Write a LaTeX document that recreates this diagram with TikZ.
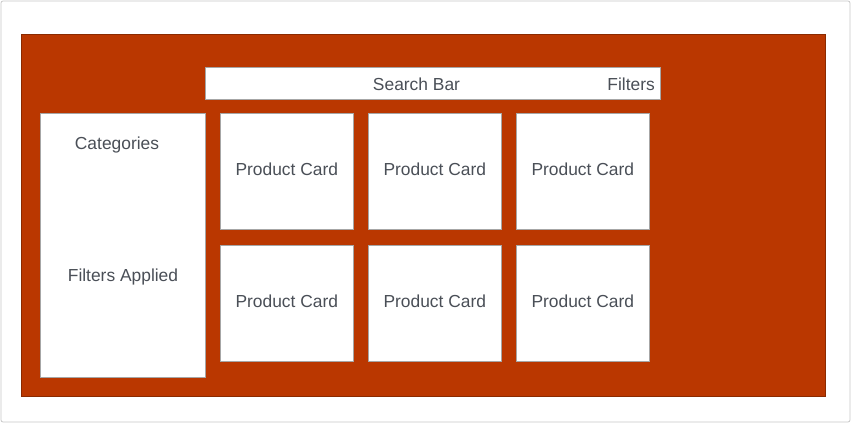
\documentclass[tikz,border=0pt]{standalone}
\usepackage{fontspec}
\setmainfont{Liberation Sans}
\definecolor{bgred}{HTML}{BA3700}
\definecolor{redborder}{HTML}{8A2A00}
\definecolor{txt}{HTML}{4A4F57}
\definecolor{frame}{HTML}{C8C8C8}
\begin{document}
\begin{tikzpicture}[x=1pt,y=-1pt,
  box/.style={draw=gray!70, line width=0.6pt, fill=white, inner sep=0pt},
  lbl/.style={text=txt, font=\fontsize{17.4}{20}\selectfont, inner sep=0pt},
  card/.style={box, minimum width=133pt, minimum height=116pt, text=txt, text depth=4pt, font=\fontsize{17.4}{20}\selectfont}]
\useasboundingbox (0,0) rectangle (852,424);
\fill[white] (0,0) rectangle (852,424);
\draw[frame, line width=0.8pt, rounded corners=2pt] (1,1) rectangle (850,422);
\draw[redborder, fill=bgred, line width=0.8pt] (21,34) rectangle (825,396);
\node[box, minimum width=455pt, minimum height=32pt, anchor=north west] (search) at (205,67) {};
\node[lbl] (searchlbl) at (416.5,84.5) {Search Bar};
\node[lbl, anchor=east] (filters) at (655,84.5) {Filters};
\node[box, minimum width=165pt, minimum height=264pt, anchor=north west] (side) at (40,113) {};
\node[lbl] (cat) at (117,145) {Categories};
\node[lbl] (fa) at (123,277) {Filters Applied};
\node[card, anchor=north west] (c1) at (220,113) {Product Card};
\node[card, anchor=north west] (c2) at (368,113) {Product Card};
\node[card, anchor=north west] (c3) at (516,113) {Product Card};
\node[card, anchor=north west] (c4) at (220,245) {Product Card};
\node[card, anchor=north west] (c5) at (368,245) {Product Card};
\node[card, anchor=north west] (c6) at (516,245) {Product Card};
\end{tikzpicture}
\end{document}
